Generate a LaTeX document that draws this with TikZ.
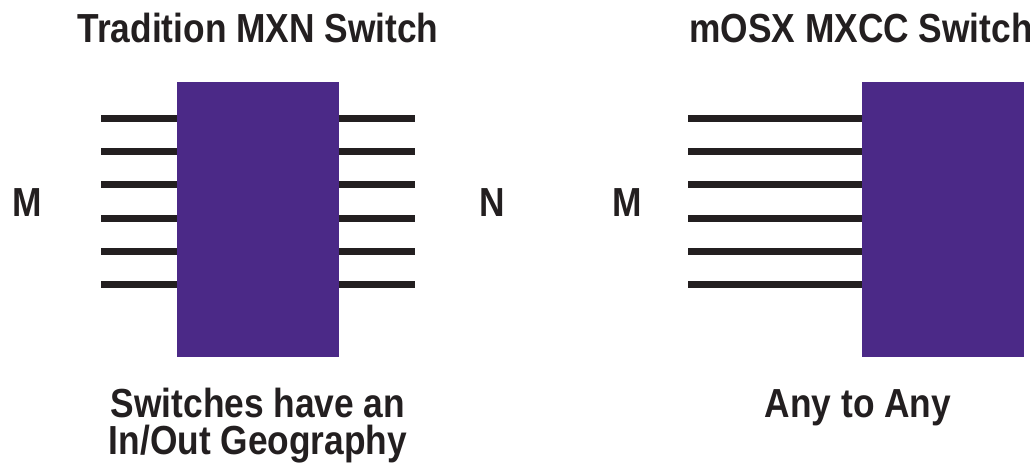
\documentclass[tikz,border=0pt]{standalone}
\usepackage{fontspec}
\newfontfamily\lblfont[FakeStretch=0.87]{Liberation Sans}
\usetikzlibrary{positioning,calc}
\definecolor{cPurple}{RGB}{75,41,135}
\definecolor{cInk}{RGB}{35,31,32}
\tikzset{
	switchbox/.style={fill=cPurple, draw=none, inner sep=0pt,
		minimum width=81pt, minimum height=137.5pt},
	port/.style={draw=cInk, line width=3.5pt, line cap=butt},
	lbl/.style={font=\lblfont\bfseries\fontsize{20.3pt}{18.5pt}\selectfont,
		text=cInk, inner sep=0pt, anchor=base, align=center},
}
\begin{document}
\begin{tikzpicture}[x=0.5pt, y=-0.5pt]
	\useasboundingbox (0,0) rectangle (1030,462);

	% traditional switch (left)
	\node[lbl] at (258,42) (tradtitle) {Tradition MXN Switch};
	\node[switchbox] at (258,219.5) (tradbox) {};
	\foreach \i in {0,...,5} {
		\coordinate (tin\i)  at (101,118.5+33.2*\i);
		\coordinate (tout\i) at (415,118.5+33.2*\i);
		\draw[port] (tin\i) -- (tin\i -| tradbox.west);
		\draw[port] (tradbox.east |- tout\i) -- (tout\i);
	}
	\node[lbl] at (27,216) (tradm) {M};
	\node[lbl] at (492.5,216) (tradn) {N};
	\node[lbl] at (258,454) (tradnote) {Switches have an\\In/Out Geography};

	% mOSX switch (right)
	\node[lbl] at (861,42) (mosxtitle) {mOSX MXCC Switch};
	\node[switchbox] at (943,219.5) (mosxbox) {};
	\foreach \i in {0,...,5} {
		\coordinate (min\i) at (688,118.5+33.2*\i);
		\draw[port] (min\i) -- (min\i -| mosxbox.west);
	}
	\node[lbl] at (627.5,216) (mosxm) {M};
	\node[lbl] at (858,417) (mosxnote) {Any to Any};
\end{tikzpicture}
\end{document}
